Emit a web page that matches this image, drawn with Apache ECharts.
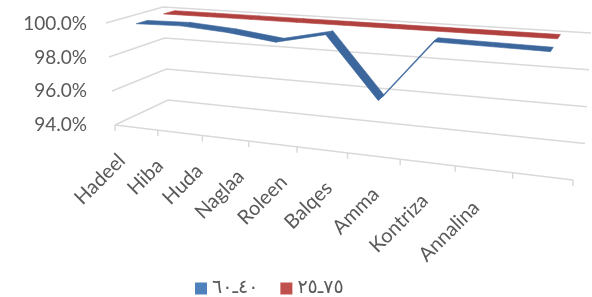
<!DOCTYPE html>
<html>
<head>
<meta charset="utf-8">
<script src="https://cdn.jsdelivr.net/npm/echarts/dist/echarts.min.js"></script>
</head>
<body style="margin:0;background:#fff">
<div id="chart0" style="width:592px;height:297px"></div>
<script>
var categories = ['Hadeel', 'Hiba', 'Huda', 'Naglaa', 'Roleen', 'Balqes', 'Amma', 'Kontriza', 'Annalina'];
var seriesNames = ['٤٠ـ٦٠', '٧٥ـ٢٥'];
var blueValues = [99.9, 99.95, 99.75, 99.4, 100.0, 96.7, 100.0, 99.95, 99.9];
var redValues = [100, 100, 100, 100, 100, 100, 100, 100, 100];
var yTicks = [94, 96, 98, 100];

// corners of the 3D box as seen in the picture (front/back, bottom/top)
var FB = [[115, 125], [573, 180]];
var FT = [[106, 23], [580, 55]];
var BB = [[168, 100], [585, 143.5]];
var BT = [[163, 7], [591, 33]];

function persp(u) { return u / (u + 1.212 * (1 - u)); }
function lerp(a, b, t) { return [a[0] + (b[0] - a[0]) * t, a[1] + (b[1] - a[1]) * t]; }
function proj(u, d, v) {
  var t = persp(u);
  var fb = lerp(FB[0], FB[1], t), ft = lerp(FT[0], FT[1], t);
  var bb = lerp(BB[0], BB[1], t), bt = lerp(BT[0], BT[1], t);
  var bot = lerp(fb, bb, d), top = lerp(ft, bt, d);
  return lerp(bot, top, v);
}
// pixel from the cartesian grid -> (u, v) in 0..1
function norm(params, p) {
  var cs = params.coordSys;
  return [(p[0] - cs.x) / cs.width, (cs.y + cs.height - p[1]) / cs.height];
}

function ribbon(values, d0, d1, fill) {
  return {
    type: 'custom',
    coordinateSystem: 'cartesian2d',
    clip: false,
    silent: true,
    data: values.slice(0, -1).map(function (v, i) { return [i + 0.5, v, values[i + 1]]; }),
    renderItem: function (params, api) {
      var a = norm(params, api.coord([api.value(0), api.value(1)]));
      var b = norm(params, api.coord([api.value(0) + 1, api.value(2)]));
      return {
        type: 'polygon',
        shape: { points: [proj(a[0], d0, a[1]), proj(b[0], d0, b[1]), proj(b[0], d1, b[1]), proj(a[0], d1, a[1])] },
        style: { fill: fill, stroke: fill, lineWidth: 0.6 }
      };
    }
  };
}

var myChart = echarts.init(document.getElementById('chart0'));
var option = {
  animation: false,
  textStyle: { fontFamily: 'Lato' },
  grid: { left: 112, top: 24, height: 101, right: 20 },
  legend: {
    left: 190, top: 274,
    icon: 'rect', itemWidth: 12, itemHeight: 12, itemGap: 22,
    textStyle: { color: '#595959', fontSize: 19, fontFamily: 'DejaVu Sans' },
    data: seriesNames
  },
  xAxis: { type: 'value', min: 0, max: categories.length, show: false },
  yAxis: {
    type: 'value', min: 94, max: 100, interval: 2,
    axisLine: { show: false }, axisTick: { show: false }, splitLine: { show: false },
    axisLabel: {
      margin: 25, color: '#595959', fontSize: 19, fontFamily: 'Lato',
      formatter: function (v) { return v.toFixed(1) + '%'; }
    }
  },
  series: [
    {
      // grid lines on side and back walls
      type: 'custom', coordinateSystem: 'cartesian2d', clip: false, silent: true,
      data: yTicks.map(function (v) { return [0, v]; }),
      renderItem: function (params, api) {
        var v = norm(params, api.coord([0, api.value(1)]))[1];
        return {
          type: 'polyline',
          shape: { points: [proj(0, 0, v), proj(0, 1, v), proj(1, 1, v)] },
          style: { stroke: '#d9d9d9', lineWidth: 1.5, fill: null }
        };
      }
    },
    {
      // front category axis with ticks
      type: 'custom', coordinateSystem: 'cartesian2d', clip: false, silent: true,
      data: categories.concat(['']).map(function (c, i) { return [i, 94]; }),
      renderItem: function (params, api) {
        var u = norm(params, api.coord([api.value(0), 94]))[0];
        var p = proj(u, 0, 0);
        var children = [{
          type: 'line', shape: { x1: p[0], y1: p[1], x2: p[0], y2: p[1] + 6 },
          style: { stroke: '#d9d9d9', lineWidth: 1.5 }
        }];
        if (params.dataIndex === 0) {
          var q = proj(1, 0, 0);
          children.push({
            type: 'line', shape: { x1: p[0], y1: p[1], x2: q[0], y2: q[1] },
            style: { stroke: '#d9d9d9', lineWidth: 1.5 }
          });
        }
        return { type: 'group', children: children };
      }
    },
    {
      // category labels
      type: 'custom', coordinateSystem: 'cartesian2d', clip: false, silent: true,
      data: categories.map(function (c, i) { return [i + 0.5, 94]; }),
      renderItem: function (params, api) {
        var u = norm(params, api.coord([api.value(0), 94]))[0];
        var c = proj(u, 0, 0);
        return {
          type: 'text',
          x: 0.872 * c[0] + 3, y: 0.96 * c[1] + 35,
          rotation: Math.PI / 4,
          style: {
            text: categories[params.dataIndex], align: 'right', verticalAlign: 'middle',
            fill: '#595959', font: '20px Lato'
          }
        };
      }
    },
    Object.assign(ribbon(redValues, 0.65, 0.85, '#b0413e'), { name: seriesNames[1], itemStyle: { color: '#c0504d' } }),
    Object.assign(ribbon(blueValues, 0.15, 0.35, '#3c679d'), { name: seriesNames[0], itemStyle: { color: '#4f81bd' } })
  ]
};
myChart.setOption(option);
</script>
</body>
</html>
